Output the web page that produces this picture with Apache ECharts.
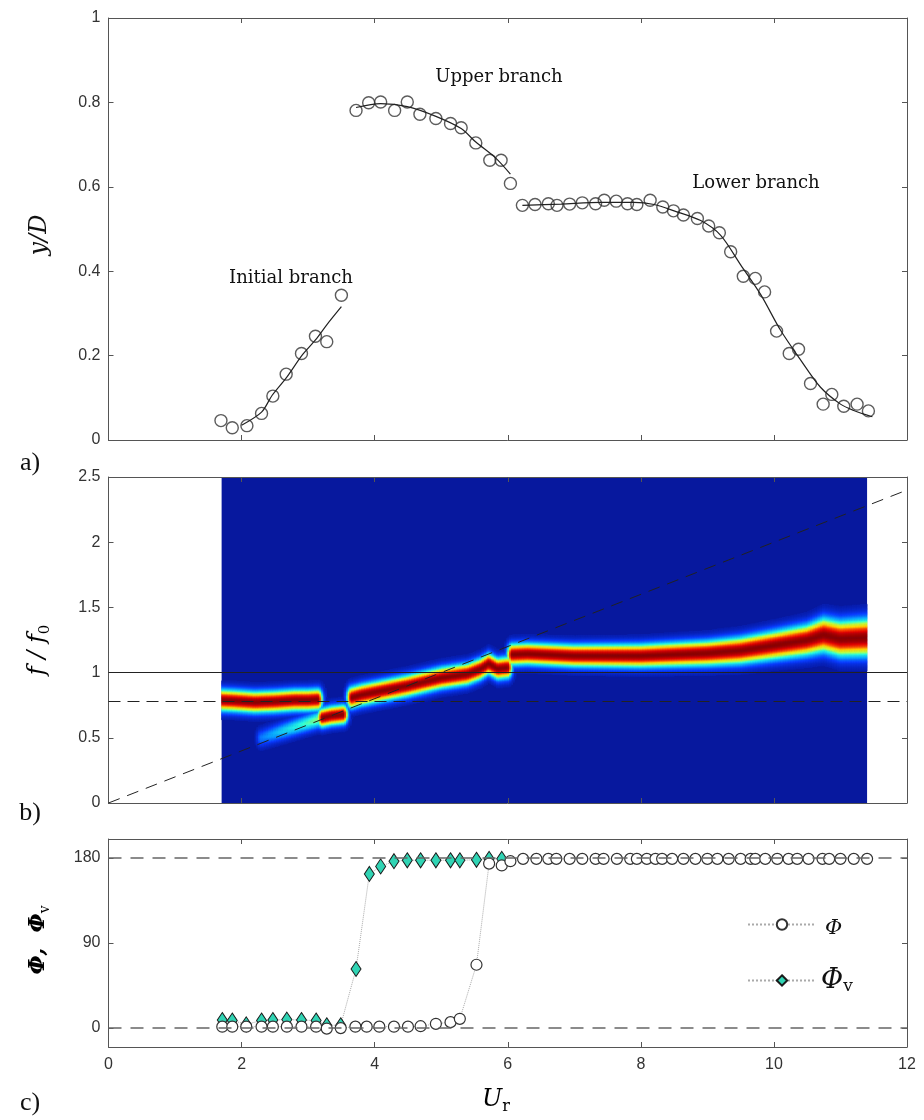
<!DOCTYPE html>
<html><head><meta charset="utf-8">
<script src="https://cdn.jsdelivr.net/npm/echarts@6/dist/echarts.min.js"></script>
<style>html,body{margin:0;padding:0;background:#fff}#c{width:924px;height:1120px}</style>
</head><body><div id="c"></div>
<script>
// ---------- Panel a: amplitude y/D vs Ur ----------
const initUr  = [1.69,1.86,2.08,2.30,2.47,2.67,2.90,3.11,3.28,3.50];
const initY   = [0.046,0.029,0.034,0.063,0.104,0.156,0.205,0.246,0.233,0.343];
const upperUr = [3.72,3.91,4.09,4.30,4.49,4.68,4.92,5.14,5.30,5.52,5.73,5.90,6.04];
const upperY  = [0.781,0.799,0.801,0.781,0.801,0.772,0.762,0.750,0.740,0.704,0.663,0.663,0.608];
const lowerUr = [6.22,6.41,6.61,6.74,6.93,7.12,7.32,7.45,7.63,7.80,7.94,8.14,8.33,8.49,8.64,8.85,9.02,9.18,9.35,9.54,9.72,9.86,10.04,10.23,10.37,10.55,10.74,10.87,11.05,11.25,11.42];
const lowerY  = [0.556,0.558,0.560,0.556,0.559,0.562,0.560,0.568,0.566,0.560,0.558,0.568,0.552,0.543,0.533,0.525,0.507,0.491,0.446,0.388,0.383,0.351,0.258,0.205,0.215,0.134,0.085,0.108,0.080,0.085,0.069];
const initFitUr  = [2.0,2.3,2.46,2.68,2.91,3.11,3.28,3.5];
const initFitY   = [0.035,0.066,0.106,0.149,0.201,0.237,0.273,0.316];
const upperFitUr = [3.72,4.09,4.49,4.92,5.30,5.52,5.82,6.04];
const upperFitY  = [0.788,0.797,0.790,0.767,0.738,0.706,0.668,0.630];
const lowerFitUr = [6.22,6.8,7.4,7.9,8.2,8.5,8.9,9.2,9.5,9.8,10.1,10.4,10.7,11.0,11.2,11.48];
const lowerFitY  = [0.556,0.559,0.563,0.563,0.558,0.543,0.520,0.485,0.415,0.345,0.260,0.190,0.125,0.085,0.070,0.055];

// ---------- Panel b: spectral ridges (peak f/f0, relative amplitude, half-width) ----------
const ridge1Ur  = [1.7,1.9,2.2,2.5,2.8,3.0,3.15];
const ridge1F   = [0.79,0.785,0.775,0.78,0.79,0.79,0.795];
const ridge1Amp = [1,1,1,1,1,1,1];
const ridge1W   = [0.076,0.076,0.076,0.076,0.076,0.076,0.076];
const ridge2Ur  = [3.22,3.35,3.53];
const ridge2F   = [0.655,0.67,0.68];
const ridge2Amp = [1,1,1];
const ridge2W   = [0.068,0.068,0.068];
const ridge3Ur  = [2.3,2.6,2.9,3.15];
const ridge3F   = [0.50,0.55,0.60,0.64];
const ridge3Amp = [0.2,0.3,0.38,0.45];
const ridge3W   = [0.065,0.065,0.065,0.065];
const ridge4Ur  = [3.66,3.8,4.1,4.5,5.0,5.4,5.6,5.72,5.85,6.0];
const ridge4F   = [0.81,0.83,0.86,0.90,0.96,0.99,1.03,1.07,1.03,1.04];
const ridge4Amp = [1,1,1,1,1,1,1,1,1,1];
const ridge4W   = [0.076,0.076,0.076,0.076,0.076,0.076,0.076,0.076,0.076,0.076];
const ridge5Ur  = [6.07,6.3,7.0,8.0,9.0,9.5,10.0,10.5,10.75,11.0,11.4];
const ridge5F   = [1.14,1.145,1.13,1.13,1.15,1.17,1.21,1.25,1.29,1.26,1.27];
const ridge5Amp = [1,1,1,1,1,1,1,1,1,1,1];
const ridge5W   = [0.076,0.076,0.078,0.082,0.088,0.094,0.1,0.108,0.12,0.125,0.13];
const heatUrRange = [1.7, 11.4];
const stLineUr = [0, 12];      // St = 0.2 line
const stLineF  = [0, 2.4];
const fNatural = 1;            // f/f0 = 1
const fStill   = 0.78;         // dashed reference level

// ---------- Panel c: phase ----------
const phiUr  = [1.71,1.86,2.07,2.30,2.47,2.68,2.90,3.12,3.28,3.49,3.71,3.88,4.07,4.29,4.50,4.69,4.92,5.14,5.28,5.53,5.72,5.91,6.04,
                6.23,6.43,6.61,6.73,6.93,7.12,7.32,7.44,7.64,7.84,7.94,8.09,8.22,8.32,8.47,8.64,8.82,9.00,9.15,9.32,9.50,9.65,9.72,9.87,10.05,10.22,10.35,10.52,10.73,10.83,11.00,11.20,11.40];
const phiVal = [1.5,1.5,1.5,1.5,1.5,1.5,1.5,1.5,-0.5,0,1.5,1.5,1.5,1.5,1.5,2,4.5,6.3,9.8,67,174,172,176.5,
                179,179,179,179,179,179,179,179,179,179,179,179,179,179,179,179,179,179,179,179,179,179,179,179,179,179,179,179,179,179,179,179,179];
const phiVUr  = [1.71,1.86,2.07,2.30,2.47,2.68,2.90,3.12,3.28,3.49,3.72,3.92,4.09,4.29,4.49,4.69,4.92,5.14,5.28,5.53,5.72,5.91];
const phiVVal = [8.5,8,4,8,8.5,9,8.5,8,3,3,62.5,163,171,176.5,177.5,177.5,177.5,177.5,177.5,178,179,179];
const phiTicks = [0,90,180];

// ---------- layout ----------
const PL = 108.5, PR = 907;
const sx = (PR - PL) / 12;
const gA = {top: 18, height: 422};
const gB = {top: 477, height: 326};
const gC = {top: 839, height: 208};

// build heatmap table from ridge arrays
const segs = [
  {u: ridge1Ur, f: ridge1F, a: ridge1Amp, w: ridge1W},
  {u: ridge2Ur, f: ridge2F, a: ridge2Amp, w: ridge2W},
  {u: ridge3Ur, f: ridge3F, a: ridge3Amp, w: ridge3W},
  {u: ridge4Ur, f: ridge4F, a: ridge4Amp, w: ridge4W},
  {u: ridge5Ur, f: ridge5F, a: ridge5Amp, w: ridge5W}
];
const endFall = 0.07;
function segVal(s, u, f) {
  const n = s.u.length; let fc, a, w, fall = 1;
  if (u <= s.u[0]) { fc = s.f[0]; a = s.a[0]; w = s.w[0]; const d = (s.u[0]-u)/endFall; fall = Math.exp(-d*d); }
  else if (u >= s.u[n-1]) { fc = s.f[n-1]; a = s.a[n-1]; w = s.w[n-1]; const d = (u-s.u[n-1])/endFall; fall = Math.exp(-d*d); }
  else {
    let k = 0; while (s.u[k+1] < u) k++;
    const t = (u - s.u[k]) / (s.u[k+1] - s.u[k]);
    fc = s.f[k] + t*(s.f[k+1]-s.f[k]); a = s.a[k] + t*(s.a[k+1]-s.a[k]); w = s.w[k] + t*(s.w[k+1]-s.w[k]);
  }
  const d = (f - fc) / w;
  return a * fall * Math.exp(-d*d);
}
const NX = 388, NY = 400;
const heatX = [], heatY = [], heatData = [];
for (let i = 0; i < NX; i++) heatX.push(String(i));
for (let j = 0; j < NY; j++) heatY.push(String(j));
for (let i = 0; i < NX; i++) {
  const u = heatUrRange[0] + (i + 0.5) * (heatUrRange[1]-heatUrRange[0]) / NX;
  for (let j = 0; j < NY; j++) {
    const f = (j + 0.5) * 2.5 / NY;
    let v = 0;
    for (const s of segs) v = Math.max(v, segVal(s, u, f));
    if (v > 0.02) heatData.push([i, j, +v.toFixed(3)]);
  }
}

const axisCol = '#555';
const lblFont = {fontFamily: 'Liberation Sans', fontSize: 16, color: '#333'};
function xAx(grid, pos, showLabel, extra) {
  return Object.assign({
    type: 'value', gridIndex: grid, position: pos, min: 0, max: 12, interval: 2,
    axisLine: {show: true, onZero: false, lineStyle: {color: axisCol, width: 1}},
    axisTick: {show: true, inside: true, length: 5, lineStyle: {color: axisCol}},
    axisLabel: Object.assign({show: showLabel, margin: 10}, lblFont),
    splitLine: {show: false}
  }, extra || {});
}
function yAx(grid, pos, min, max, interval, showLabel, extra) {
  return Object.assign({
    type: 'value', gridIndex: grid, position: pos, min: min, max: max, interval: interval,
    axisLine: {show: true, onZero: false, lineStyle: {color: axisCol, width: 1}},
    axisTick: {show: true, inside: true, length: 5, lineStyle: {color: axisCol}},
    axisLabel: Object.assign({show: showLabel, margin: 8}, lblFont),
    splitLine: {show: false}
  }, extra || {});
}
const zip = (a, b) => a.map((v, i) => [v, b[i]]);

const serifI = '"DejaVu Serif"';
const option = {
  animation: false,
  backgroundColor: '#fff',
  grid: [
    {left: PL, width: PR-PL, top: gA.top, height: gA.height},
    {left: PL + heatUrRange[0]*sx, width: (heatUrRange[1]-heatUrRange[0])*sx, top: gB.top, height: gB.height,
     show: true, backgroundColor: '#07189e', borderWidth: 0},
    {left: PL, width: PR-PL, top: gB.top, height: gB.height},
    {left: PL, width: PR-PL, top: gC.top, height: gC.height}
  ],
  xAxis: [
    xAx(0, 'bottom', false), xAx(0, 'top', false),
    {type: 'category', gridIndex: 1, data: heatX, show: false},
    xAx(2, 'bottom', false), xAx(2, 'top', false),
    xAx(3, 'bottom', true), xAx(3, 'top', false)
  ],
  yAxis: [
    yAx(0, 'left', 0, 1, 0.2, true), yAx(0, 'right', 0, 1, 0.2, false),
    {type: 'category', gridIndex: 1, data: heatY, show: false},
    yAx(2, 'left', 0, 2.5, 0.5, true), yAx(2, 'right', 0, 2.5, 0.5, false),
    yAx(3, 'left', -20, 200, null, true, {
      axisLabel: Object.assign({show: true, margin: 8, customValues: phiTicks}, lblFont),
      axisTick: {show: true, inside: true, length: 5, customValues: phiTicks, lineStyle: {color: axisCol}}
    }),
    yAx(3, 'right', -20, 200, null, false, {
      axisTick: {show: true, inside: true, length: 5, customValues: phiTicks, lineStyle: {color: axisCol}}
    })
  ],
  visualMap: {
    type: 'continuous', seriesIndex: 0, min: 0, max: 1, show: false, dimension: 2,
    inRange: {color: ['#07189e', '#0a3cff', '#0aa8ff', '#28ffe0', '#c8ff38', '#ffd800', '#ff5000', '#e00000', '#8c0000']}
  },
  legend: {
    orient: 'vertical', left: 742, top: 913, itemWidth: 68, itemHeight: 13, itemGap: 28,
    data: ['Φ', 'Φv'],
    formatter: n => n === 'Φ' ? '{a|Φ}' : '{b|Φ}{c|v}',
    textStyle: {
      rich: {
        a: {fontFamily: serifI, fontStyle: 'italic', fontSize: 21, color: '#111', padding: [8, 0, 0, 4]},
        b: {fontFamily: serifI, fontStyle: 'italic', fontSize: 27, color: '#111', lineHeight: 30},
        c: {fontFamily: serifI, fontSize: 17, color: '#111', verticalAlign: 'bottom', lineHeight: 14}
      }
    }
  },
  series: [
    {type: 'heatmap', xAxisIndex: 2, yAxisIndex: 2, data: heatData, progressive: 0, silent: true},
    // panel a
    {type: 'line', xAxisIndex: 0, yAxisIndex: 0, data: zip(initFitUr, initFitY), showSymbol: false, smooth: 0.3,
     lineStyle: {color: '#222', width: 1.2}, silent: true},
    {type: 'line', xAxisIndex: 0, yAxisIndex: 0, data: zip(upperFitUr, upperFitY), showSymbol: false, smooth: 0.3,
     lineStyle: {color: '#222', width: 1.2}, silent: true},
    {type: 'line', xAxisIndex: 0, yAxisIndex: 0, data: zip(lowerFitUr, lowerFitY), showSymbol: false, smooth: 0.3,
     lineStyle: {color: '#222', width: 1.2}, silent: true},
    {type: 'scatter', xAxisIndex: 0, yAxisIndex: 0,
     data: zip(initUr, initY).concat(zip(upperUr, upperY), zip(lowerUr, lowerY)),
     symbol: 'circle', symbolSize: 12,
     itemStyle: {color: 'rgba(255,255,255,0)', borderColor: '#333', borderWidth: 1.4}, silent: true},
    // panel b reference lines
    {type: 'line', xAxisIndex: 3, yAxisIndex: 3, data: zip(stLineUr, stLineF), showSymbol: false,
     lineStyle: {color: '#222', width: 1, type: [12, 8]}, silent: true, z: 5,
     markLine: {silent: true, symbol: 'none', label: {show: false},
       data: [
         {yAxis: fNatural, lineStyle: {color: '#222', width: 1.2, type: 'solid'}},
         {yAxis: fStill, lineStyle: {color: '#222', width: 1.2, type: [12, 7]}}
       ]}},
    // panel c
    {name: 'Φv', type: 'line', xAxisIndex: 5, yAxisIndex: 5, data: zip(phiVUr, phiVVal),
     symbol: 'diamond', symbolSize: [10, 15], showAllSymbol: true,
     itemStyle: {color: '#30d4b4', borderColor: '#1a1a1a', borderWidth: 1},
     lineStyle: {color: '#aaa', width: 1, type: 'dotted'}, silent: true,
     markLine: {silent: true, symbol: 'none', label: {show: false},
       lineStyle: {color: '#666', width: 1.6, type: [13, 9]},
       data: [{yAxis: 0}, {yAxis: 180}]}},
    {name: 'Φ', type: 'line', xAxisIndex: 5, yAxisIndex: 5, data: zip(phiUr, phiVal),
     symbol: 'circle', symbolSize: 11, showAllSymbol: true,
     itemStyle: {color: '#fff', borderColor: '#333', borderWidth: 1.2},
     lineStyle: {color: '#aaa', width: 1, type: 'dotted'}, silent: true}
  ],
  graphic: [
    {type: 'text', x: 291, y: 278, style: {text: 'Initial branch', font: '18px "DejaVu Serif"', fill: '#111', align: 'center', verticalAlign: 'middle'}},
    {type: 'text', x: 499, y: 77, style: {text: 'Upper branch', font: '18px "DejaVu Serif"', fill: '#111', align: 'center', verticalAlign: 'middle'}},
    {type: 'text', x: 756, y: 183, style: {text: 'Lower branch', font: '18px "DejaVu Serif"', fill: '#111', align: 'center', verticalAlign: 'middle'}},
    {type: 'text', x: 40, y: 235, rotation: Math.PI/2,
     style: {text: 'y/D', font: 'italic 24px "DejaVu Serif"', fill: '#111', align: 'center', verticalAlign: 'middle'}},
    {type: 'text', x: 38, y: 650, rotation: Math.PI/2,
     style: {text: '{i|f / f}{s|0}', align: 'center', verticalAlign: 'middle',
       rich: {i: {fontFamily: 'DejaVu Serif', fontStyle: 'italic', fontSize: 24, lineHeight: 30, color: '#111'},
              s: {fontFamily: 'DejaVu Serif', fontSize: 15, lineHeight: 16, verticalAlign: 'bottom', color: '#111'}}}},
    {type: 'text', x: 38, y: 940, rotation: Math.PI/2,
     style: {text: '{i|Φ,  Φ}{s|v}', align: 'center', verticalAlign: 'middle',
       rich: {i: {fontFamily: 'DejaVu Serif', fontStyle: 'italic', fontWeight: 'bold', fontSize: 22, lineHeight: 28, color: '#111'},
              s: {fontFamily: 'DejaVu Serif', fontSize: 14, lineHeight: 14, verticalAlign: 'bottom', color: '#111'}}}},
    {type: 'text', x: 496, y: 1100,
     style: {text: '{i|U}{s|r}', align: 'center', verticalAlign: 'middle',
       rich: {i: {fontFamily: 'DejaVu Serif', fontStyle: 'italic', fontSize: 24, lineHeight: 30, color: '#111'},
              s: {fontFamily: 'DejaVu Serif', fontSize: 16, lineHeight: 16, verticalAlign: 'bottom', color: '#111'}}}},
    {type: 'text', x: 30, y: 463, style: {text: 'a)', font: '26px "Liberation Serif"', fill: '#111', align: 'center', verticalAlign: 'middle'}},
    {type: 'text', x: 30, y: 813, style: {text: 'b)', font: '26px "Liberation Serif"', fill: '#111', align: 'center', verticalAlign: 'middle'}},
    {type: 'text', x: 30, y: 1103, style: {text: 'c)', font: '26px "Liberation Serif"', fill: '#111', align: 'center', verticalAlign: 'middle'}}
  ]
};
const chart = echarts.init(document.getElementById('c'), null, {renderer: 'canvas', width: 924, height: 1120});
chart.setOption(option);
</script>
</body></html>
